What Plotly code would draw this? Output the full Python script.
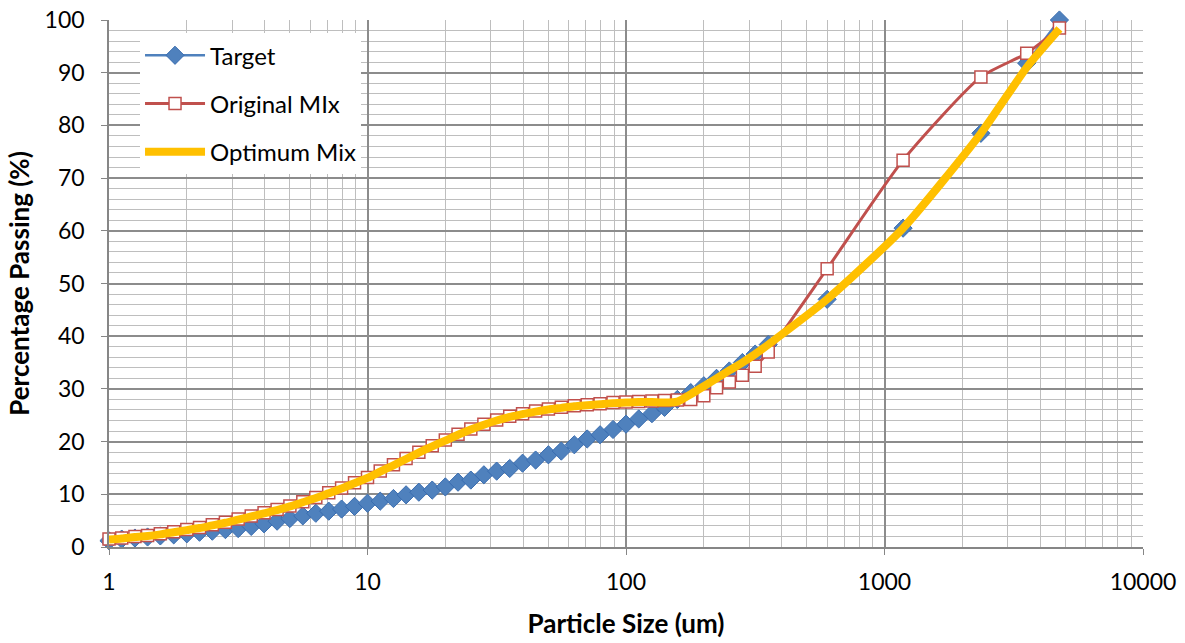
import plotly.graph_objects as go

sizes = [1, 1.12, 1.26, 1.41, 1.58, 1.78, 2.0, 2.24, 2.51, 2.82,
         3.16, 3.55, 3.98, 4.47, 5.01, 5.62, 6.31, 7.08, 7.94, 8.91,
         10, 11.2, 12.6, 14.1, 15.8, 17.8, 20.0, 22.4, 25.1, 28.2,
         31.6, 35.5, 39.8, 44.7, 50.1, 56.2, 63.1, 70.8, 79.4, 89.1,
         100, 112, 126, 141, 158, 178, 200, 224, 251, 282, 316, 355,
         600, 1180, 2360, 3550, 4750]

target = [1.2, 1.5, 1.7, 1.9, 2.1, 2.3, 2.5, 2.8, 3.0, 3.3,
          3.5, 3.9, 4.4, 4.9, 5.4, 5.9, 6.4, 6.8, 7.2, 7.7,
          8.3, 8.7, 9.2, 9.9, 10.4, 10.8, 11.4, 12.3, 12.7, 13.7,
          14.4, 14.9, 15.9, 16.5, 17.5, 18.2, 19.4, 20.5, 21.3, 22.3,
          23.3, 24.3, 25.3, 26.5, 28.0, 29.3, 30.6, 32.0, 33.4, 35.0, 36.6, 38.4,
          47.0, 60.5, 78.5, 91.8, 100.0]

original = [1.5, 1.7, 2.0, 2.2, 2.5, 2.9, 3.3, 3.7, 4.2, 4.7,
            5.3, 5.9, 6.5, 7.1, 7.8, 8.6, 9.4, 10.3, 11.2, 12.2,
            13.2, 14.4, 15.6, 16.8, 18.0, 19.2, 20.3, 21.4, 22.4, 23.3,
            24.1, 24.8, 25.3, 25.8, 26.2, 26.5, 26.8, 27.0, 27.2, 27.4,
            27.5, 27.6, 27.7, 27.8, 27.9, 28.0, 28.7, 30.2, 31.3, 32.6, 34.3, 37.0,
            52.8, 73.4, 89.2, 93.7, 98.5]

optimum = [1.4, 1.6, 1.9, 2.1, 2.4, 2.8, 3.2, 3.6, 4.1, 4.6,
           5.2, 5.8, 6.4, 7.0, 7.7, 8.5, 9.3, 10.2, 11.1, 12.1,
           13.1, 14.3, 15.5, 16.7, 17.9, 19.1, 20.2, 21.3, 22.3, 23.2,
           24.0, 24.7, 25.2, 25.7, 26.1, 26.4, 26.7, 26.9, 27.1, 27.3,
           27.4, 27.5, 27.5, 27.4, 27.6, 29.0, 30.5, 32.0, 33.5, 35.0, 36.6, 38.4,
           47.0, 60.5, 78.5, 91.0, 98.3]

font_family = "Lato, 'Open Sans', sans-serif"

fig = go.Figure()
fig.add_trace(go.Scatter(
    x=sizes, y=target, name="Target", mode="lines+markers", legendgroup="t",
    cliponaxis=False,
    line=dict(color="#4F81BD", width=2.5, shape="spline", smoothing=0.5),
    marker=dict(symbol="diamond", size=14, color="#4F81BD",
                line=dict(color="#3A6DB0", width=1)),
))
fig.add_trace(go.Scatter(
    x=sizes, y=original, name="Original MIx", mode="lines+markers", legendgroup="o",
    cliponaxis=False,
    line=dict(color="#C0504D", width=3, shape="spline", smoothing=0.6),
    marker=dict(symbol="square", size=12, color="white",
                line=dict(color="#C0504D", width=1.5)),
))
fig.add_trace(go.Scatter(
    x=sizes, y=optimum, name="Optimum Mix", mode="lines", legendgroup="p",
    cliponaxis=False,
    line=dict(color="#FFC000", width=8, shape="spline", smoothing=0.6),
))

fig.update_layout(
    width=1185, height=643,
    margin=dict(l=109, r=42, t=20, b=96, autoexpand=False),
    paper_bgcolor="white", plot_bgcolor="white",
    font=dict(family=font_family, size=23, color="black"),
    showlegend=True,
    legend=dict(x=0.03, y=0.975, xanchor="left", yanchor="top",
                bgcolor="white", borderwidth=0,
                font=dict(size=24, family=font_family),
                itemwidth=60, tracegroupgap=14),
)
fig.update_xaxes(
    type="log", range=[0, 4],
    tickvals=[1, 10, 100, 1000, 10000], ticktext=["1", "10", "100", "1000", "10000"],
    tickfont=dict(size=23),
    showgrid=True, gridcolor="#8C8C8C", gridwidth=1.5,
    minor=dict(dtick="D1", showgrid=True, gridcolor="#BEBEBE", gridwidth=1.2, ticks=""),
    showline=True, linecolor="#868686", linewidth=1.5,
    ticks="outside", ticklen=6, tickcolor="#868686",
    ticklabelstandoff=8, ticklabeloverflow="allow",
    zeroline=False, automargin=False,
    title=dict(text="<b>Particle Size (um)</b>", font=dict(size=26), standoff=20),
)
fig.update_yaxes(
    range=[0, 100], dtick=10,
    tickfont=dict(size=23),
    showgrid=True, gridcolor="#8C8C8C", gridwidth=1.5,
    minor=dict(dtick=2, showgrid=True, gridcolor="#BEBEBE", gridwidth=1.2),
    showline=True, linecolor="#868686", linewidth=1.5,
    ticks="outside", ticklen=6, tickcolor="#868686",
    ticklabelstandoff=12, ticklabeloverflow="allow",
    zeroline=False, automargin=False,
    title=dict(text="<b>Percentage Passing (%)</b>", font=dict(size=26), standoff=8),
)

fig.write_html("out.html", config={"displayModeBar": False},
               post_script="document.body.style.margin='0';")
